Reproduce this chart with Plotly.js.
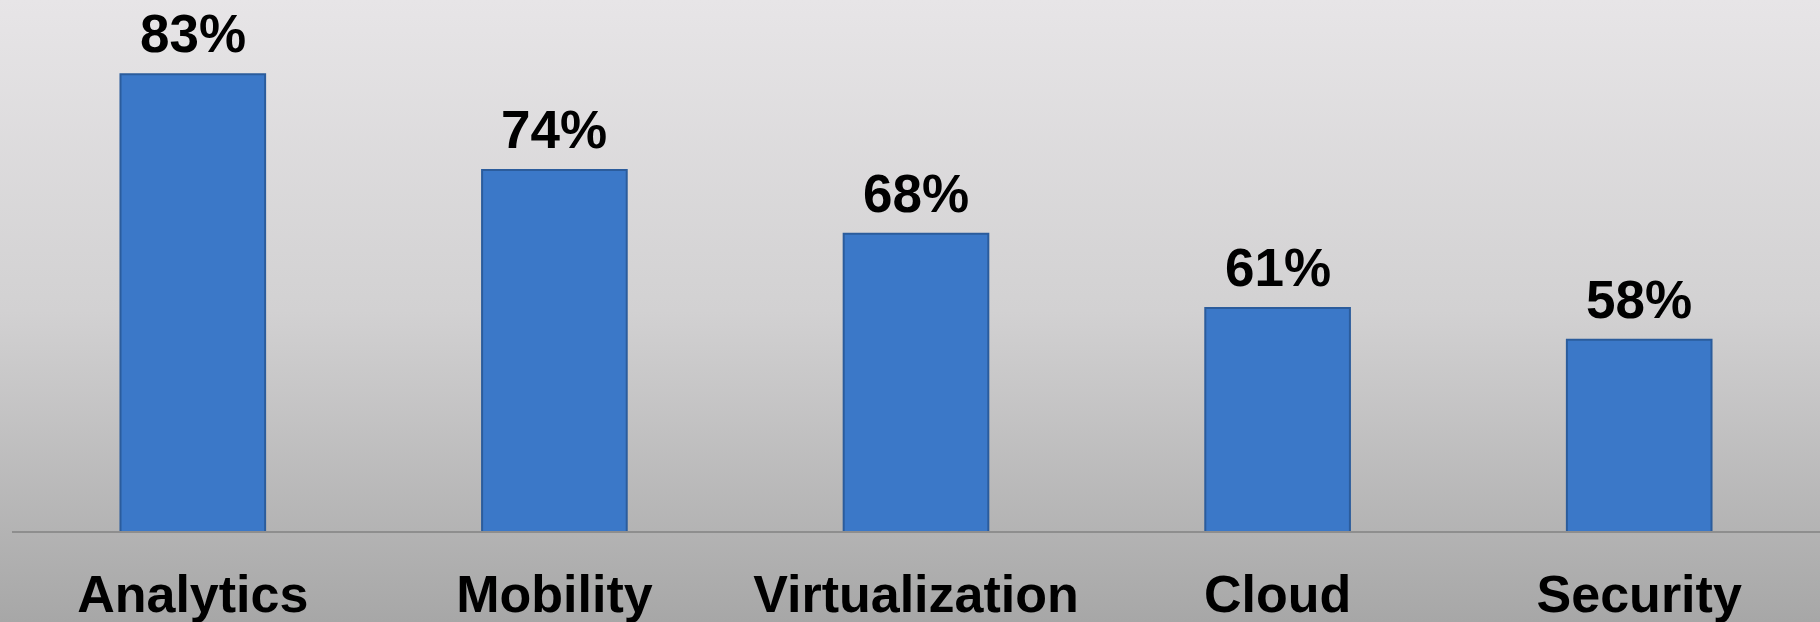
<!DOCTYPE html>
<html>
<head>
<meta charset="utf-8">
<script src="https://cdn.plot.ly/plotly-3.0.1.min.js"></script>
<style>
  html, body { margin: 0; padding: 0; }
  #chart {
    width: 1820px; height: 622px;
    background: linear-gradient(to bottom, #e7e5e7 0%, #d2d1d2 50%, #a7a7a7 100%);
  }
</style>
</head>
<body>
<div id="chart"></div>
<script>
const categories = ["Analytics", "Mobility", "Virtualization", "Cloud", "Security"];
const values = [83, 74, 68, 61, 58];
const valueLabels = ["83%", "74%", "68%", "61%", "58%"];

const fontFamily = "Liberation Sans, Arial, Helvetica, sans-serif";

const trace = {
  type: "bar",
  x: categories,
  y: values,
  marker: {
    color: "#3b78c8",
    line: { color: "#2b5c9c", width: 2 }
  },
  hoverinfo: "skip"
};

const annotations = categories.map((c, i) => ({
  x: c,
  y: values[i],
  xref: "x",
  yref: "y",
  text: "<b>" + valueLabels[i] + "</b>",
  showarrow: false,
  yanchor: "bottom",
  yshift: 9,
  font: { family: fontFamily, size: 53, color: "#000000" }
}));

const layout = {
  width: 1820,
  height: 622,
  margin: { l: 12, r: 0, t: 0, b: 91 },
  paper_bgcolor: "rgba(0,0,0,0)",
  plot_bgcolor: "rgba(0,0,0,0)",
  bargap: 0.6,
  showlegend: false,
  xaxis: {
    type: "category",
    showline: true,
    linecolor: "#8e8e8e",
    linewidth: 1.5,
    ticks: "",
    showgrid: false,
    zeroline: false,
    ticklabelstandoff: 17,
    tickfont: { family: fontFamily, size: 52, color: "#000000", weight: "bold" }
  },
  yaxis: {
    range: [40, 90],
    visible: false,
    showgrid: false,
    zeroline: false
  },
  annotations: annotations
};

Plotly.newPlot("chart", [trace], layout, { displayModeBar: false, staticPlot: true });
</script>
</body>
</html>
